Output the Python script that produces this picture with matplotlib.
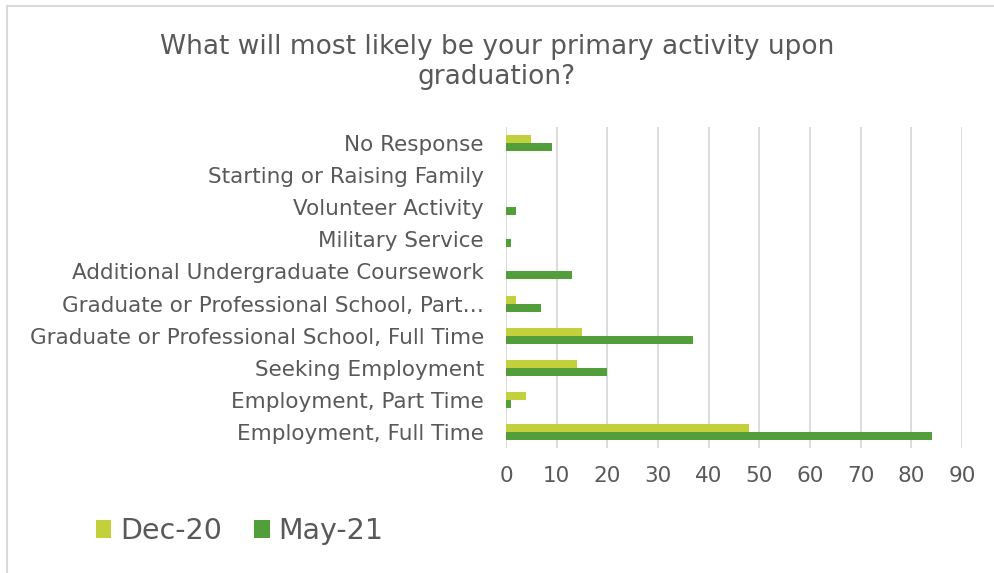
import numpy as np
import matplotlib.pyplot as plt
from matplotlib.lines import Line2D

categories = [
    'Employment, Full Time',
    'Employment, Part Time',
    'Seeking Employment',
    'Graduate or Professional School, Full Time',
    'Graduate or Professional School, Part\u2026',
    'Additional Undergraduate Coursework',
    'Military Service',
    'Volunteer Activity',
    'Starting or Raising Family',
    'No Response',
]
dec_20 = [48, 4, 14, 15, 2, 0, 0, 0, 0, 5]
may_21 = [84, 1, 20, 37, 7, 13, 1, 2, 0, 9]
xticks = list(range(0, 100, 10))

DEC_COLOR = '#C3D03B'
MAY_COLOR = '#529E3A'
TEXT = '#595959'

plt.rcParams['font.family'] = ['DejaVu Sans']

W, H = 994, 573
fig = plt.figure(figsize=(W / 100, H / 100), dpi=100)
ax = fig.add_axes([506 / W, 1 - 448 / H, (962 - 506) / W, (448 - 127) / H])

y = np.arange(len(categories))
h = 0.25
ax.barh(y + h / 2, dec_20, height=h, color=DEC_COLOR, label='Dec-20', zorder=3)
ax.barh(y - h / 2, may_21, height=h, color=MAY_COLOR, label='May-21', zorder=3)

ax.set_xlim(0, 90)
ax.set_ylim(-0.5, len(categories) - 0.5)
ax.set_xticks(xticks)
ax.set_yticks(y)
ax.set_yticklabels(categories)
ax.tick_params(axis='both', length=0, colors=TEXT, labelsize=15.5)
ax.tick_params(axis='x', pad=13)
ax.tick_params(axis='y', pad=16)
ax.grid(axis='x', color='#D9D9D9', linewidth=1.3, zorder=0)
for s in ax.spines.values():
    s.set_visible(False)

fig.text(0.5, 1 - 62 / H, 'What will most likely be your primary activity upon\ngraduation?',
         ha='center', va='center', fontsize=19, color=TEXT, linespacing=1.15)

handles, labels = ax.get_legend_handles_labels()
fig.legend(handles, labels, loc='center left', bbox_to_anchor=(70 / W, 1 - 531 / H),
           ncol=2, frameon=False, fontsize=20.5, labelcolor=TEXT,
           handlelength=0.55, handleheight=0.55, handletextpad=0.3, columnspacing=1.15)

# chart frame: top and left edges only
x0, y0 = 6.5 / W, 1 - 5.5 / H
fig.add_artist(Line2D([x0, 993 / W], [y0, y0], transform=fig.transFigure,
                      color='#D9D9D9', linewidth=1.5))
fig.add_artist(Line2D([x0, x0], [y0, 0], transform=fig.transFigure,
                      color='#D9D9D9', linewidth=1.5))

fig.savefig('out.png', dpi=100)
